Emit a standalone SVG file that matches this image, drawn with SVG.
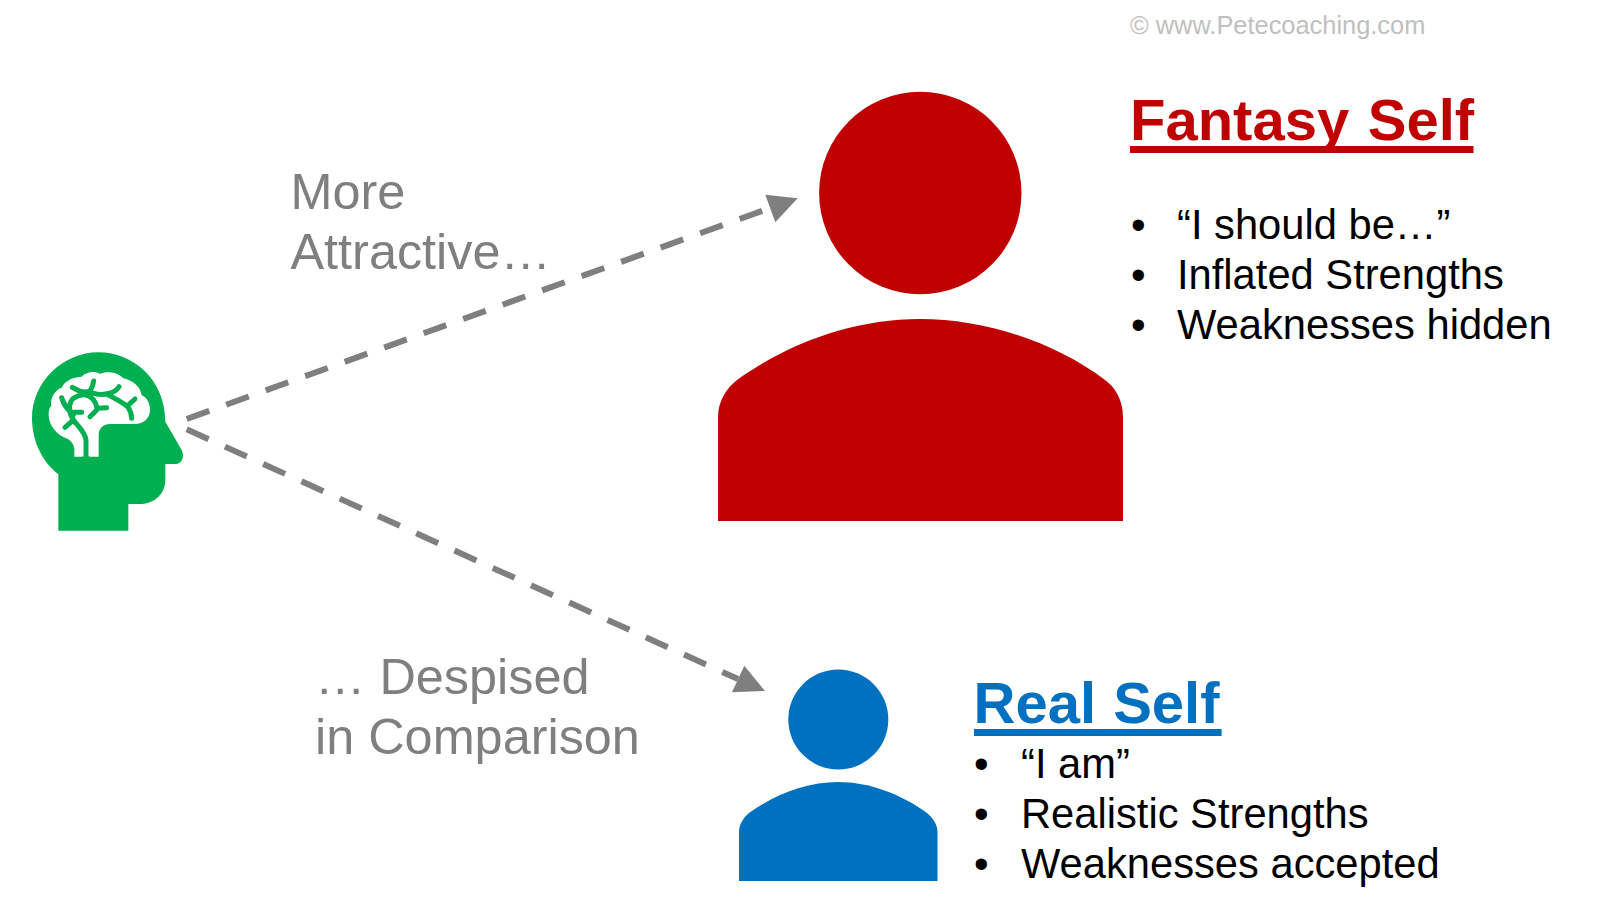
<svg xmlns="http://www.w3.org/2000/svg" width="1624" height="922" viewBox="0 0 1624 922">
<style>
text{font-family:"Liberation Sans",Arial,sans-serif}
.title{font-size:58px;font-weight:700}
.item{font-size:41.7px;fill:#000}
.note{font-size:50.4px;fill:#7f7f7f}
.conn{fill:none;stroke:#7f7f7f;stroke-width:6;stroke-dasharray:24 18}
.tip{fill:#7f7f7f}
.red{fill:#c00000}
.blue{fill:#0070c0}
.green{fill:#00b050}
.vein{fill:none;stroke:#00b050;stroke-width:15;stroke-linecap:round;stroke-linejoin:round}
</style>
<rect width="1624" height="922" fill="#fff"/>
<g id="connectors">
<path class="conn" d="M186.7 419L770 208"/>
<polygon class="tip" points="797.7,198.3 765.3,194.7 775.3,222.3"/>
<path class="conn" d="M186.7 429.3L738 679"/>
<polygon class="tip" points="765,691 744.3,665.7 732,692.3"/>
</g>
<g id="brain-head">
<g transform="translate(0 340) scale(.33333)">
<path class="green" d="M175 572H385V492H420C465 492 496 460 496 420V372H525C543 372 556 352 545 330L496 245C496 120 400 37 295 37C190 37 96 125 96 235C96 300 125 365 175 403Z"/>
</g>
<g transform="translate(40 365) scale(.33333)">
<path fill="#fff" d="M103 275V250C100 235 90 222 75 218C50 208 26 180 26 150C26 135 29 128 34 122C29 95 50 72 65 68C75 45 105 35 125 35C140 20 165 17 180 27C200 17 235 22 250 40C280 47 300 65 305 90C325 100 330 120 330 135C330 160 310 177 285 177H210C190 177 176 190 176 210V275Z"/>
<path class="vein" d="M138 290V225C135 200 110 180 100 165C85 140 85 115 100 100C115 90 135 85 150 95C165 105 172 122 170 135L150 155M97 67C115 78 135 85 150 78C155 70 160 60 161 48M150 82L175 88C195 90 225 85 237 65M200 88C225 100 250 115 263 125C270 135 275 150 275 160M263 122L285 102M65 98C70 120 85 135 100 150M100 142H125M100 165L75 187M170 130L200 128"/>
<rect class="green" x="125" y="275" width="26" height="20"/>
</g>
</g>
<g id="fantasy-person" class="red">
<circle cx="920.3" cy="193" r="101.2"/>
<path d="M718 521V417C718 400 728 387 737 380C790 342 855 319 920 319C985 319 1055 342 1105 380C1115 387 1123 400 1123 417V521Z"/>
</g>
<g id="real-person" class="blue">
<circle cx="838.3" cy="719.5" r="50"/>
<path d="M739 881V832C739 824 744 817 749 813C775 794 807 782 838 782C869 782 901 794 927 813C932 817 937.500 824 937.500 832V881Z"/>
</g>
<g id="fantasy-label">
<text class="title red" x="1130" y="140" word-spacing="2.4">Fantasy Self</text>
<rect class="red" x="1130" y="146" width="343.500" height="7"/>
<text class="item" x="1131" y="239">•</text><text class="item" x="1177" y="239">“I should be…”</text>
<text class="item" x="1131" y="289">•</text><text class="item" x="1177" y="289">Inflated Strengths</text>
<text class="item" x="1131" y="339">•</text><text class="item" x="1177" y="339">Weaknesses hidden</text>
</g>
<g id="real-label">
<text class="title blue" x="973.500" y="723" word-spacing="1">Real Self</text>
<rect class="blue" x="974" y="729" width="247.600" height="7"/>
<text class="item" x="974" y="778">•</text><text class="item" x="1021" y="778">“I am”</text>
<text class="item" x="974" y="828">•</text><text class="item" x="1021" y="828">Realistic Strengths</text>
<text class="item" x="974" y="878">•</text><text class="item" x="1021" y="878">Weaknesses accepted</text>
</g>
<g id="note-attractive">
<text class="note" x="290.500" y="209">More</text>
<text class="note" x="290.500" y="269">Attractive…</text>
</g>
<g id="note-despised">
<text class="note" x="315" y="694">… Despised</text>
<text class="note" x="315" y="754">in Comparison</text>
</g>
<g id="copyright"><text x="1130" y="34" font-size="25.4" fill="#bfbfbf">© www.Petecoaching.com</text></g>
</svg>
